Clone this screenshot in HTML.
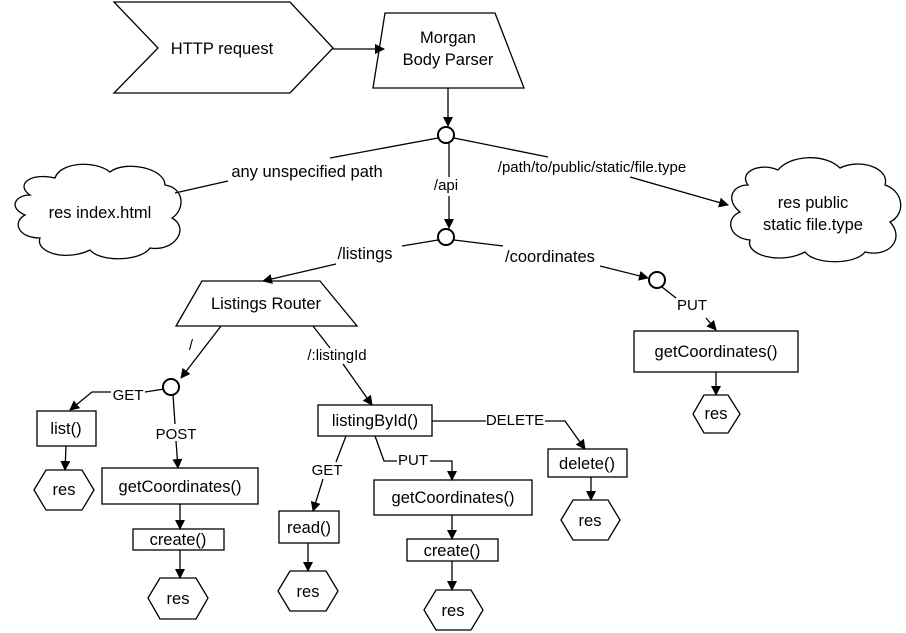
<!DOCTYPE html>
<html><head><meta charset="utf-8"><style>
html,body{margin:0;padding:0;background:#fff;width:906px;height:633px;overflow:hidden}
svg{display:block}
text{font-family:"Liberation Sans",Arial,sans-serif;fill:#000}
.t{font-size:16.5px}
.l{font-size:15px}
</style></head><body>
<svg width="906" height="633" viewBox="0 0 906 633" xmlns="http://www.w3.org/2000/svg">
<defs>
<marker id="a" markerWidth="10" markerHeight="10" refX="9" refY="5" orient="auto" markerUnits="userSpaceOnUse">
<path d="M0,0 L10,5 L0,10 Z" fill="#000"/></marker>
</defs>
<g fill="#fff" stroke="#000" stroke-width="1.3">
<polygon points="114,2 290,2 333,48 290,93 114,93 158,48"/>
<polygon points="385,13 495,13 524,88 373,88"/>
<polygon points="202,281 320,281 357,326 176,326"/>
<path d="M30,195 C15,185 30,172 55,178 C60,162 95,160 110,172 C125,160 165,168 165,185 C185,188 185,210 172,218 C190,228 175,252 150,248 C140,262 100,262 90,250 C65,262 35,252 40,238 C18,238 12,222 25,215 C8,208 15,195 30,195 Z"/>
<path d="M748,185 C738,172 760,162 778,170 C790,155 825,153 840,168 C860,158 890,168 885,185 C905,192 905,215 890,222 C905,238 890,258 865,252 C855,265 815,265 805,252 C780,265 745,255 750,240 C728,238 725,218 740,212 C725,200 732,185 748,185 Z"/>
<circle cx="446" cy="135" r="8" stroke-width="2"/>
<circle cx="446" cy="237" r="8" stroke-width="2"/>
<circle cx="657" cy="280" r="8" stroke-width="2"/>
<circle cx="171" cy="387" r="8" stroke-width="2"/>
<rect x="634" y="331" width="164" height="41"/>
<rect x="37" y="411" width="59" height="35"/>
<rect x="102" y="468" width="156" height="36"/>
<rect x="133" y="529" width="91" height="21"/>
<rect x="318" y="405" width="114" height="31"/>
<rect x="548" y="449" width="79" height="28"/>
<rect x="279" y="511" width="60" height="32"/>
<rect x="374" y="480" width="158" height="35"/>
<rect x="407" y="539" width="91" height="22"/>
<polygon points="693,414 704,395 728,395 740,414 728,433 704,433"/>
<polygon points="34,490 46,470 82,470 94,490 82,510 46,510"/>
<polygon points="148,598 160,578 196,578 208,598 196,619 160,619"/>
<polygon points="278,591 290,571 326,571 338,591 326,611 290,611"/>
<polygon points="561,520 573,500 608,500 620,520 608,540 573,540"/>
<polygon points="424,610 436,590 471,590 483,610 471,630 436,630"/>
</g>
<g fill="none" stroke="#000" stroke-width="1.3">
<line x1="333" y1="49" x2="384" y2="49" marker-end="url(#a)"/>
<line x1="448" y1="88" x2="448" y2="126" marker-end="url(#a)"/>
<line x1="438" y1="138" x2="330" y2="158"/>
<line x1="228" y1="181" x2="175" y2="193"/>
<line x1="454" y1="138" x2="548" y2="157"/>
<line x1="630" y1="177" x2="728" y2="205" marker-end="url(#a)"/>
<line x1="449" y1="143" x2="449" y2="177"/>
<line x1="449" y1="196" x2="449" y2="228" marker-end="url(#a)"/>
<line x1="438" y1="240" x2="402" y2="246"/>
<line x1="336" y1="264" x2="263" y2="281" marker-end="url(#a)"/>
<line x1="454" y1="240" x2="503" y2="246"/>
<line x1="600" y1="266" x2="648" y2="278" marker-end="url(#a)"/>
<line x1="662" y1="287" x2="676" y2="298"/>
<line x1="706" y1="318" x2="716" y2="330" marker-end="url(#a)"/>
<line x1="716" y1="372" x2="716" y2="395" marker-end="url(#a)"/>
<line x1="221" y1="326" x2="181" y2="378" marker-end="url(#a)"/>
<polyline points="164,389 145,392"/>
<polyline points="111,392 92,392 70,410" marker-end="url(#a)"/>
<line x1="173" y1="395" x2="175" y2="424"/>
<line x1="176" y1="441" x2="178" y2="468" marker-end="url(#a)"/>
<line x1="66" y1="446" x2="65" y2="470" marker-end="url(#a)"/>
<line x1="180" y1="504" x2="180" y2="529" marker-end="url(#a)"/>
<line x1="180" y1="550" x2="180" y2="578" marker-end="url(#a)"/>
<line x1="313" y1="326" x2="330" y2="348"/>
<line x1="343" y1="364" x2="372" y2="405" marker-end="url(#a)"/>
<line x1="432" y1="421" x2="486" y2="421"/>
<polyline points="545,421 565,421 585,449" marker-end="url(#a)"/>
<line x1="591" y1="477" x2="591" y2="500" marker-end="url(#a)"/>
<line x1="346" y1="436" x2="336" y2="462"/>
<line x1="323" y1="479" x2="313" y2="511" marker-end="url(#a)"/>
<line x1="308" y1="543" x2="308" y2="571" marker-end="url(#a)"/>
<polyline points="375,436 384,461 397,461"/>
<polyline points="430,461 452,461 452,480" marker-end="url(#a)"/>
<line x1="452" y1="515" x2="452" y2="539" marker-end="url(#a)"/>
<line x1="452" y1="561" x2="452" y2="590" marker-end="url(#a)"/>
</g>
<g class="t" text-anchor="middle">
<text x="222" y="54">HTTP request</text>
<text x="448" y="43">Morgan</text>
<text x="448" y="65">Body Parser</text>
<text x="100" y="218">res index.html</text>
<text x="813" y="208">res public</text>
<text x="813" y="230">static file.type</text>
<text x="266" y="309">Listings Router</text>
<text x="716" y="357">getCoordinates()</text>
<text x="716" y="419">res</text>
<text x="66" y="434">list()</text>
<text x="64" y="495">res</text>
<text x="180" y="492">getCoordinates()</text>
<text x="178" y="545">create()</text>
<text x="178" y="604">res</text>
<text x="375" y="426">listingById()</text>
<text x="587" y="469">delete()</text>
<text x="590" y="526">res</text>
<text x="309" y="533">read()</text>
<text x="308" y="597">res</text>
<text x="453" y="503">getCoordinates()</text>
<text x="452" y="556">create()</text>
<text x="453" y="616">res</text>
<text x="307" y="177">any unspecified path</text>
<text x="365" y="259">/listings</text>
<text x="550" y="262">/coordinates</text>
</g>
<g class="l" text-anchor="middle">
<text x="446" y="190">/api</text>
<text x="592" y="172">/path/to/public/static/file.type</text>
<text x="692" y="310">PUT</text>
<text x="191" y="350">/</text>
<text x="337" y="360">/:listingId</text>
<text x="128" y="400">GET</text>
<text x="176" y="439">POST</text>
<text x="515" y="425">DELETE</text>
<text x="327" y="475">GET</text>
<text x="413" y="465">PUT</text>
</g>
</svg>
</body></html>
